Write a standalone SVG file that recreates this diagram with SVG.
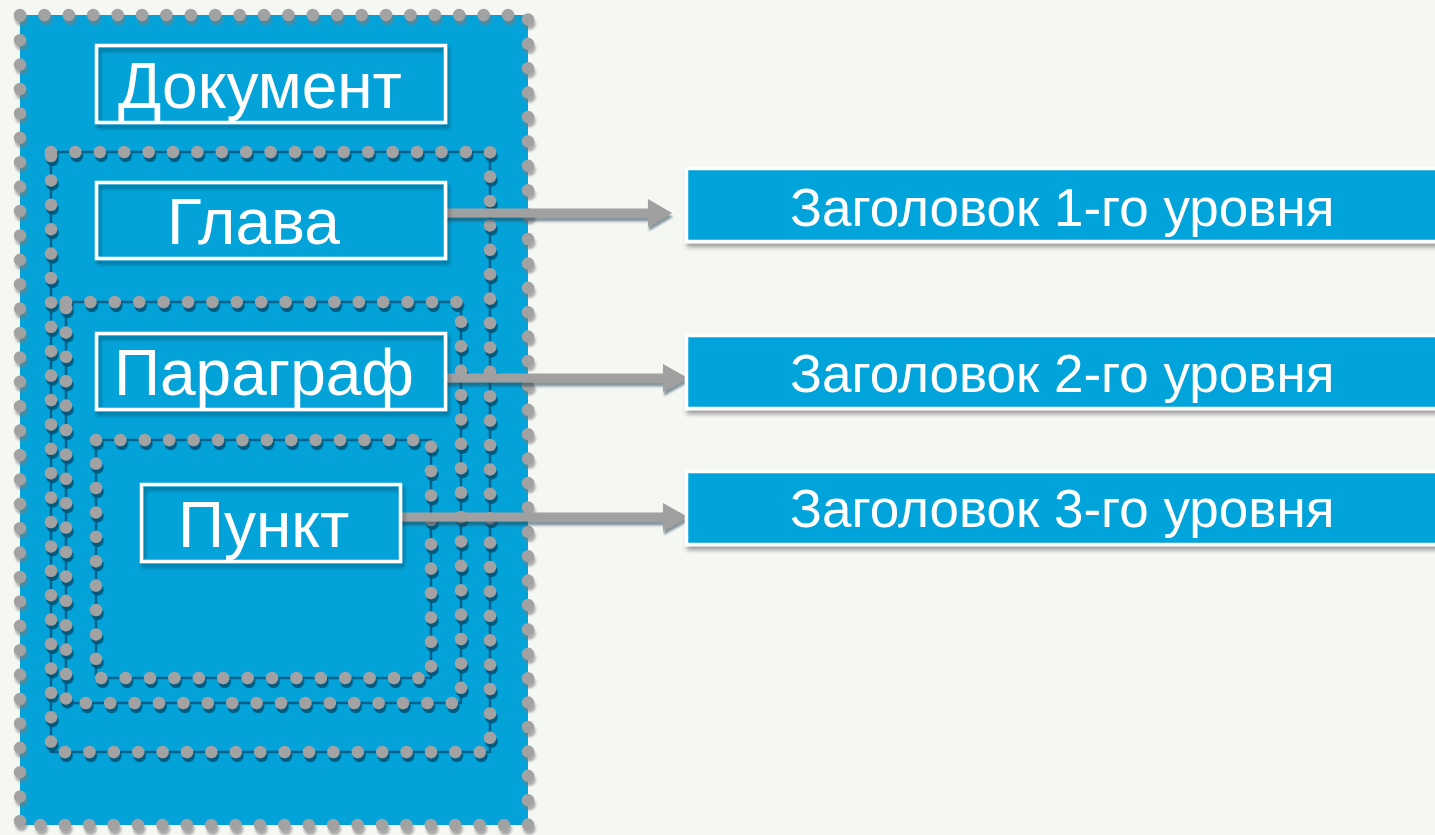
<svg xmlns="http://www.w3.org/2000/svg" width="1435" height="835" viewBox="0 0 1435 835">
<defs>
<style>
.bg{fill:#F5F7F3}
.blue{fill:#03A3DA}
.dots{fill:none;stroke:#A2A2A2;stroke-width:12.5;stroke-linecap:round;stroke-dasharray:0 24.4}
.inner{fill:none;stroke:#00628C;stroke-width:2.5}
.lbl{fill:none;stroke:#FFFFFF;stroke-width:3.5}
.hbox{fill:#03A3DA;stroke:#FFFFFF;stroke-width:3.5}
.t{font-family:"Liberation Sans",Arial,sans-serif;fill:#FFFFFF}
.big{font-size:64px}
.mid{font-size:53px}
.arr{stroke:#A0A0A0;stroke-width:9;fill:none}
.head{fill:#A0A0A0}
</style>
<filter id="sd" x="-5%" y="-5%" width="110%" height="110%">
<feDropShadow dx="1.5" dy="4" stdDeviation="0.6" flood-color="#005478" flood-opacity="0.9"/>
</filter>
<filter id="sdo" x="-5%" y="-5%" width="110%" height="110%">
<feDropShadow dx="1.5" dy="4" stdDeviation="1" flood-color="#7a7a7a" flood-opacity="0.6"/>
</filter>
<filter id="bs" x="-10%" y="-20%" width="120%" height="150%">
<feDropShadow dx="2" dy="4" stdDeviation="2" flood-color="#000000" flood-opacity="0.35"/>
</filter>
<filter id="as" x="-5%" y="-50%" width="110%" height="200%">
<feDropShadow dx="1" dy="4" stdDeviation="1" flood-color="#2a4a5a" flood-opacity="0.55"/>
</filter>
</defs>
<rect class="bg" x="0" y="0" width="1435" height="835"/>

<g id="document-frame">
<rect class="blue" x="20" y="15" width="508" height="810"/>
<rect class="dots" x="20" y="15" width="508" height="810" filter="url(#sdo)"/>
</g>

<g id="chapter-frame">
<rect class="inner" x="51" y="152" width="439" height="600"/>
<rect class="dots" x="51" y="152" width="439" height="600" filter="url(#sd)"/>
</g>

<g id="paragraph-frame">
<rect class="inner" x="66" y="302" width="395" height="401"/>
<rect class="dots" x="66" y="302" width="395" height="401" filter="url(#sd)"/>
</g>

<g id="item-frame">
<rect class="inner" x="96" y="440" width="335" height="238"/>
<rect class="dots" x="96" y="440" width="335" height="238" filter="url(#sd)"/>
</g>

<g id="connectors" filter="url(#as)">
<line class="arr" x1="446" y1="213" x2="652" y2="213"/>
<polygon class="head" points="648,199 672,213 648,227"/>
<line class="arr" x1="446" y1="378" x2="668" y2="378"/>
<polygon class="head" points="663,364 688,378 663,392"/>
<line class="arr" x1="400" y1="517" x2="668" y2="517"/>
<polygon class="head" points="663,503 688,517 663,531"/>
</g>

<g id="node-document">
<rect class="lbl" x="96.5" y="45.5" width="349" height="77" filter="url(#bs)"/>
<text class="t big" x="118" y="108">Документ</text>
</g>

<g id="node-chapter">
<rect class="lbl" x="96.5" y="182.5" width="349" height="76" filter="url(#bs)"/>
<text class="t big" x="167" y="244">Глава</text>
</g>

<g id="node-paragraph">
<rect class="lbl" x="96.5" y="333.5" width="349" height="76" filter="url(#bs)"/>
<text class="t big" x="114" y="395">Параграф</text>
</g>

<g id="node-item">
<rect class="lbl" x="141.5" y="484.5" width="259" height="77" filter="url(#bs)"/>
<text class="t big" x="178" y="547">Пункт</text>
</g>

<g id="node-h1">
<rect class="hbox" x="686.5" y="168.5" width="770" height="73" filter="url(#bs)"/>
<text class="t mid" x="790" y="226">Заголовок 1-го уровня</text>
</g>

<g id="node-h2">
<rect class="hbox" x="686.5" y="335.5" width="770" height="73" filter="url(#bs)"/>
<text class="t mid" x="790" y="392">Заголовок 2-го уровня</text>
</g>

<g id="node-h3">
<rect class="hbox" x="686.5" y="471.5" width="770" height="73" filter="url(#bs)"/>
<text class="t mid" x="790" y="527">Заголовок 3-го уровня</text>
</g>
</svg>
